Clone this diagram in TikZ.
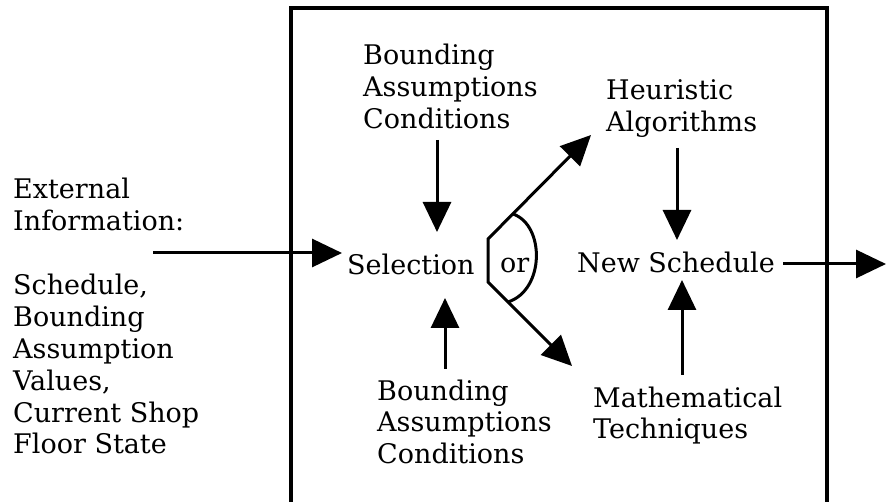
\documentclass[tikz,border=0pt]{standalone}
\usepackage{fontspec}
\setmainfont{DejaVu Serif}
\usetikzlibrary{arrows.meta}
\newcommand{\lines}[1]{\begin{tabular}[t]{@{}l@{}}#1\end{tabular}}
\begin{document}
\begin{tikzpicture}[x=1pt,y=-1pt,
  txt/.style={anchor=base west, inner sep=0pt,
    font=\fontsize{27}{31.8}\selectfont},
  arr/.style={line width=3pt, -{Triangle[length=30pt,width=28pt]}},
  plain/.style={line width=3pt}]
\useasboundingbox (0,0) rectangle (886,502);
% frame (open at the bottom)
\draw[line width=3.2pt] (291,506) -- (291,8) -- (827,8) -- (827,506);
% texts
\node[txt] (ext) at (13,199) {\lines{External\\Information:}};
\node[txt] (vals) at (13,295) {\lines{Schedule,\\Bounding\\Assumption\\Values,\\Current Shop\\Floor State}};
\node[txt] (bac1) at (363,65) {\lines{Bounding\\Assumptions\\Conditions}};
\node[txt] (heur) at (606,100) {\lines{Heuristic\\Algorithms}};
\node[txt] (sel) at (347,275) {Selection};
\node[txt] (or) at (500,273) {or};
\node[txt] (ns) at (577,273) {New Schedule};
\node[txt] (bac2) at (377,400) {\lines{Bounding\\Assumptions\\Conditions}};
\node[txt] (math) at (593,407) {\lines{Mathematical\\Techniques}};
% connector end points
\coordinate (inS) at (153,253);
\coordinate (inE) at (342,253);
\coordinate (b1S) at (437,140);
\coordinate (b1E) at (437,232);
\coordinate (b2S) at (445,369);
\coordinate (b2E) at (445,298);
\coordinate (hS) at (677,148);
\coordinate (hE) at (677,240);
\coordinate (mS) at (682,375);
\coordinate (mE) at (682,280);
\coordinate (oS) at (783,264);
\coordinate (oE) at (886,264);
\coordinate (brT) at (488,239);
\coordinate (brB) at (488,282);
\coordinate (upE) at (591,135);
\coordinate (dnE) at (572,366);
\coordinate (arcA) at (513,214);
\coordinate (arcB) at (508,302);
% connectors
\draw[arr] (inS) -- (inE);
\draw[arr] (b1S) -- (b1E);
\draw[arr] (b2S) -- (b2E);
\draw[arr] (hS) -- (hE);
\draw[arr] (mS) -- (mE);
\draw[arr] (oS) -- (oE);
\draw[line width=3pt, line join=miter,
  {Triangle[length=30pt,width=28pt]}-{Triangle[length=30pt,width=28pt]}]
  (upE) -- (brT) -- (brB) -- (dnE);
\draw[plain] (arcA) .. controls (545,225) and (545,290) .. (arcB);
\end{tikzpicture}
\end{document}
